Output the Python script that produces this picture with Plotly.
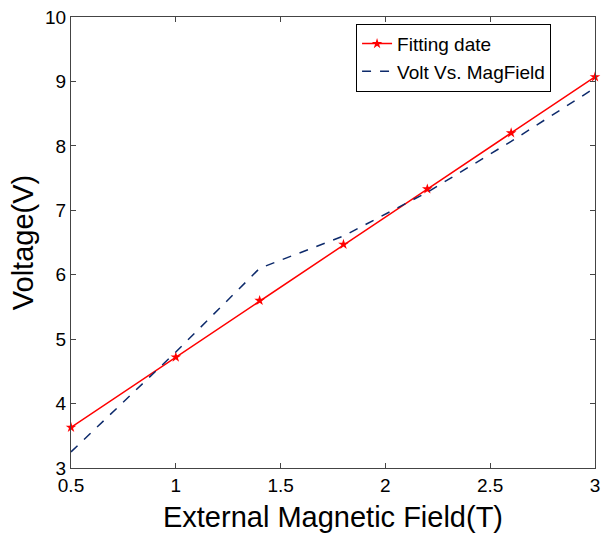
import plotly.graph_objects as go

x_fit = [0.5, 1.0, 1.4, 1.8, 2.2, 2.6, 3.0]
y_fit = [3.63, 4.72, 5.60, 6.47, 7.33, 8.20, 9.07]
x_meas = [0.5, 1.0, 1.4, 1.8, 2.2, 2.6, 3.0]
y_meas = [3.25, 4.80, 6.10, 6.60, 7.28, 8.07, 8.90]
x_ticks = [0.5, 1, 1.5, 2, 2.5, 3]
x_tick_labels = ["0.5", "1", "1.5", "2", "2.5", "3"]
y_ticks = [3, 4, 5, 6, 7, 8, 9, 10]

FONT = "Liberation Sans, Arial"
fig = go.Figure()
fig.add_trace(go.Scatter(x=x_fit, y=y_fit, mode="lines+markers", name="Fitting date",
                         line=dict(color="#ff0000", width=1.5), cliponaxis=False,
                         marker=dict(symbol="star", size=8, color="#ff0000")))
fig.add_trace(go.Scatter(x=x_meas, y=y_meas, mode="lines", name="Volt Vs. MagField",
                         line=dict(color="#0d2a6b", width=1.5, dash="dash")))

axis_common = dict(showgrid=False, zeroline=False, showline=True, linecolor="#444444",
                   linewidth=1, mirror="ticks", ticks="inside", ticklen=5, automargin=False,
                   tickcolor="#444444", tickfont=dict(family=FONT, size=19, color="black"))
fig.update_xaxes(range=[0.5, 3], tickvals=x_ticks, ticktext=x_tick_labels,
                 title=dict(text="External Magnetic Field(T)", font=dict(family=FONT, size=29, color="black"), standoff=11),
                 **axis_common)
fig.update_yaxes(range=[3, 10], tickvals=y_ticks,
                 title=dict(text="Voltage(V)", font=dict(family=FONT, size=29, color="black"), standoff=2),
                 **axis_common)
fig.update_layout(width=601, height=538, margin=dict(l=71, r=6, t=17, b=70),
                  plot_bgcolor="white", paper_bgcolor="white",
                  legend=dict(x=0.544, y=0.985, xanchor="left", yanchor="top",
                              bordercolor="black", borderwidth=1, bgcolor="white",
                              font=dict(family=FONT, size=19, color="black"),
                              tracegroupgap=0, itemwidth=30),
                  showlegend=True)
fig.write_html("out.html", config={"displayModeBar": False},
               post_script="document.body.style.margin='0';document.body.style.overflow='hidden';")
